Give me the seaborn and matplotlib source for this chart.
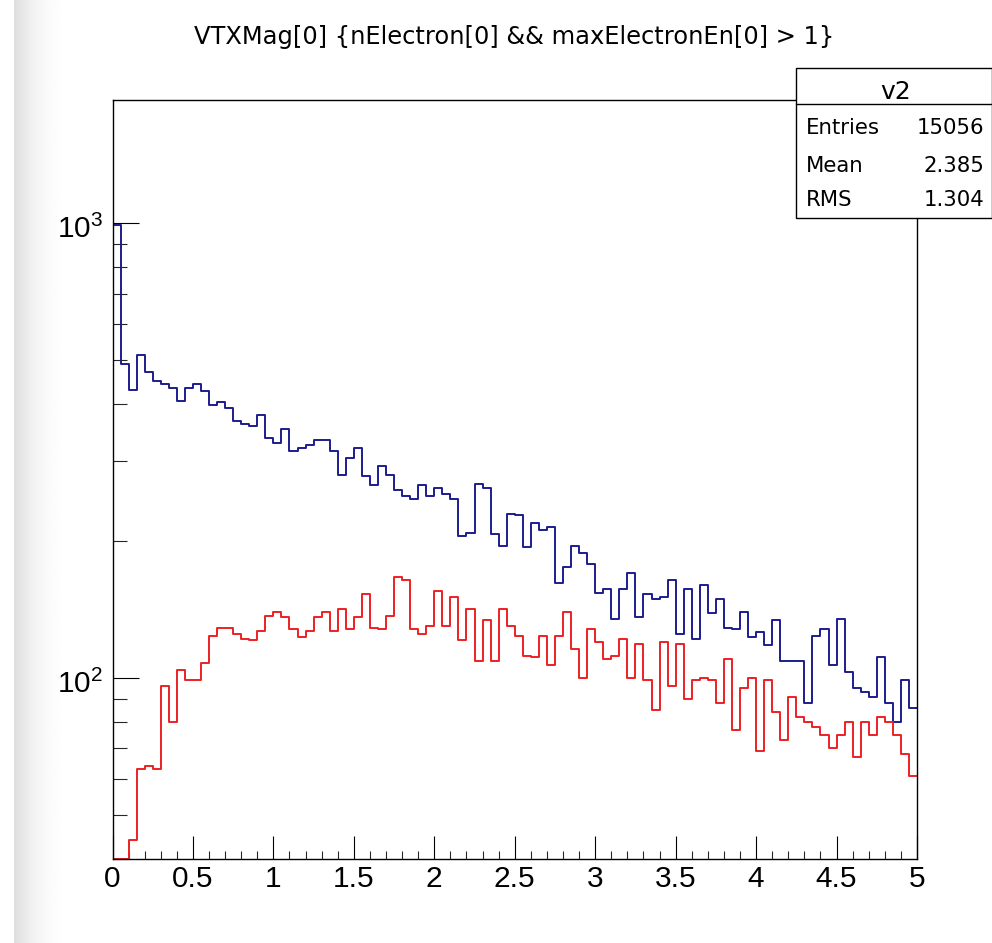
import numpy as np
import pandas as pd
import matplotlib
matplotlib.use("Agg")
import matplotlib.pyplot as plt
import matplotlib.transforms as mtransforms
from matplotlib.patches import Rectangle
from matplotlib.ticker import LogLocator, NullFormatter, MultipleLocator
import seaborn as sns

# VTXMag[0], 100 bins between 0 and 5 (counts)
x_min, x_max, n_bins = 0.0, 5.0, 100

blue_counts = [
    990, 490, 430, 514, 471, 449, 442, 434, 407, 434,
    444, 428, 398, 404, 392, 368, 362, 359, 379, 337,
    328, 353, 315, 321, 326, 334, 334, 316, 280, 304,
    321, 278, 265, 293, 280, 259, 251, 247, 265, 251,
    262, 254, 248, 205, 208, 267, 261, 207, 195, 229,
    228, 194, 219, 212, 215, 162, 175, 195, 188, 178,
    154, 157, 135, 157, 170, 136, 153, 149, 151, 164,
    125, 157, 122, 160, 139, 149, 129, 128, 140, 123,
    126, 118, 134, 109, 109, 109, 88, 124, 128, 107,
    135, 103, 95, 93, 91, 111, 88, 80, 99, 86,
]

red_counts = [
    40, 40, 44, 63, 64, 63, 96, 80, 104, 99,
    99, 108, 124, 129, 129, 125, 122, 121, 127, 137,
    140, 136, 128, 123, 127, 136, 140, 127, 142, 128,
    136, 153, 129, 128, 137, 167, 164, 128, 125, 130,
    155, 130, 151, 121, 142, 109, 134, 109, 142, 130,
    124, 112, 111, 124, 107, 124, 140, 116, 100, 128,
    120, 110, 112, 122, 100, 119, 99, 85, 120, 96,
    119, 90, 99, 100, 99, 88, 110, 77, 95, 100,
    69, 99, 84, 73, 91, 82, 80, 78, 75, 70,
    75, 80, 67, 80, 75, 82, 80, 75, 68, 61,
]

stat_names = ["Entries", "Mean", "RMS"]
stat_values = ["15056", "2.385", "1.304"]
hist_name = "v2"
title = "VTXMag[0] {nElectron[0] && maxElectronEn[0] > 1}"

bin_w = (x_max - x_min) / n_bins
centers = x_min + bin_w * (np.arange(n_bins) + 0.5)
df = pd.DataFrame({"x": centers, "blue": blue_counts, "red": red_counts})

sns.set_theme(style="white")
plt.rcParams["font.family"] = ["Liberation Sans", "DejaVu Sans"]
plt.rcParams["mathtext.fontset"] = "custom"
plt.rcParams["mathtext.rm"] = "Liberation Sans"
plt.rcParams["text.color"] = "black"
wide_font = ["DejaVu Sans"]  # ROOT title / stats text is drawn wider than the axis labels

W, H = 992, 943
fig = plt.figure(figsize=(W / 100, H / 100), dpi=100)

# grey fade on the left edge of the screenshot
bg = fig.add_axes([14 / W, 0, 58 / W, 1], zorder=-5)
fade = 0.87 + 0.13 * (1 - (1 - np.linspace(0, 1, 256)) ** 2.2)
bg.imshow(fade[None, :], aspect="auto", cmap="gray", vmin=0, vmax=1,
          extent=[0, 1, 0, 1])
bg.set_axis_off()

ax = fig.add_axes([112.5 / W, 84 / H, (917 - 112.5) / W, (859 - 99.5) / H])
ax.set_facecolor("none")

sns.histplot(data=df, x="x", weights="blue", binwidth=bin_w, binrange=(x_min, x_max),
             element="step", fill=False, color="#1c1c8e", linewidth=1.4, ax=ax)
sns.histplot(data=df, x="x", weights="red", binwidth=bin_w, binrange=(x_min, x_max),
             element="step", fill=False, color="#ec2024", linewidth=1.4, ax=ax)

ax.set_yscale("log")
ax.set_xlim(x_min, x_max)
ax.set_ylim(40, 1870)
ax.set_xlabel("")
ax.set_ylabel("")

ax.xaxis.set_major_locator(MultipleLocator(0.5))
ax.xaxis.set_minor_locator(MultipleLocator(0.1))
ax.xaxis.set_major_formatter(plt.FuncFormatter(lambda v, p: f"{v:g}"))
ax.yaxis.set_major_locator(LogLocator(base=10, numticks=10))
ax.yaxis.set_minor_locator(LogLocator(base=10, subs=np.arange(2, 10), numticks=20))
ax.yaxis.set_minor_formatter(NullFormatter())

ax.tick_params(axis="x", which="major", direction="in", length=16.5, width=0.8,
               labelsize=21.5, pad=4.5, colors="black")
ax.tick_params(axis="x", which="minor", direction="in", length=5.5, width=0.8)
ax.tick_params(axis="y", which="major", direction="in", length=18.5, width=0.8,
               labelsize=21.5, pad=6.5, colors="black")
ax.tick_params(axis="y", which="minor", direction="in", length=9.8, width=0.8)
ax.tick_params(bottom=True, left=True, top=False, right=False, which="both")
for s in ax.spines.values():
    s.set_color("black")
    s.set_linewidth(1.0)

# nudge the 10^n labels a little down, as in ROOT
shift = mtransforms.ScaledTranslation(0, -3 / 100, fig.dpi_scale_trans)
for lab in ax.get_yticklabels():
    lab.set_transform(lab.get_transform() + shift)

fig.text(514.5 / W, 1 - 44.3 / H, title, ha="center", va="baseline",
         fontsize=17.4, family=wide_font)

# stats box
bx0, bx1, by0, by1 = 796 / W, 991.5 / W, 1 - 218 / H, 1 - 68 / H
fig.patches.append(Rectangle((bx0, by0), bx1 - bx0, by1 - by0, transform=fig.transFigure,
                             facecolor="white", edgecolor="black", linewidth=1.0, zorder=10))
fig.add_artist(plt.Line2D([bx0, bx1], [1 - 104.3 / H] * 2, color="black", linewidth=1.0,
                          transform=fig.transFigure, zorder=11))
fig.text(896 / W, 1 - 99.3 / H, hist_name, ha="center", va="baseline",
         fontsize=18, family=wide_font, zorder=12)
for name, val, yb in zip(stat_names, stat_values, [134, 171.5, 206.5]):
    fig.text(806 / W, 1 - yb / H, name, ha="left", va="baseline", fontsize=15.3,
             family=wide_font, zorder=12)
    fig.text(984 / W, 1 - yb / H, val, ha="right", va="baseline", fontsize=15.3,
             family=wide_font, zorder=12)

fig.savefig("out.png", dpi=100)
